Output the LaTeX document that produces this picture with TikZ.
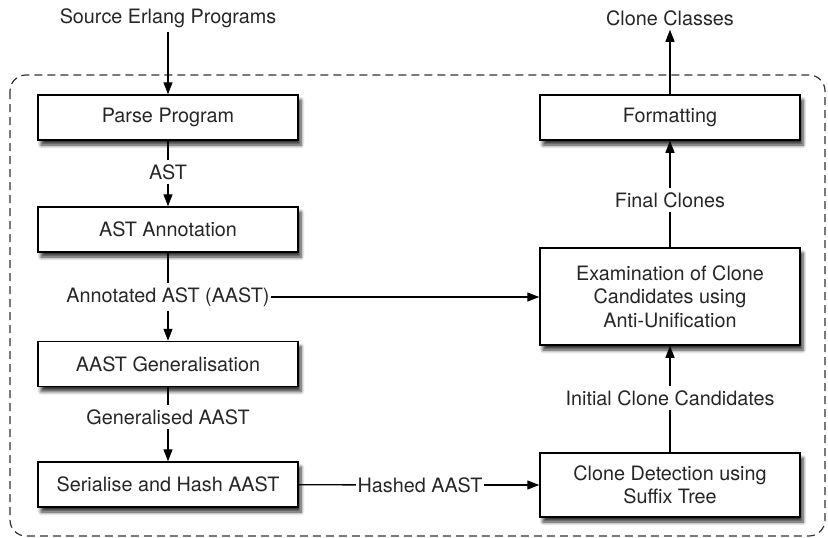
\documentclass[tikz,border=0pt]{standalone}
\usepackage{fontspec}
\setmainfont{TeX Gyre Heros}
\usetikzlibrary{arrows.meta,shadows.blur}
\begin{document}
\begin{tikzpicture}[x=1pt,y=-1pt,
  every node/.style={font=\fontsize{19.8}{23.5}\selectfont, text=black!85},
  stage/.style={draw=black, line width=1.5pt, fill=white, minimum width=260pt,
    minimum height=45pt, align=center, inner sep=2pt,
    blur shadow={shadow xshift=3pt, shadow yshift=-5pt, shadow blur steps=6,
      shadow blur radius=3.5pt, shadow opacity=80}},
  lbl/.style={inner sep=4pt},
  inline/.style={inner xsep=1.5pt, inner ysep=4pt},
  conn/.style={line width=1.3pt, draw=black},
  flow/.style={conn, -{Triangle[length=12pt,width=9pt]}}]
\useasboundingbox (0,0) rectangle (828,538);

% dashed frame around the tool
\draw[black!80, line width=1.2pt, dash pattern=on 8pt off 5pt, rounded corners=16pt]
  (10,75) rectangle (825,536);

% left column
\node[lbl] (src) at (168,18) {Source Erlang Programs};
\node[stage] (parse) at (168,117.5) {Parse Program};
\node[lbl] (ast) at (168,172) {AST};
\node[stage] (annot) at (168,229.5) {AST Annotation};
\node[lbl, inline] (aast) at (168,297) {Annotated AST (AAST)};
\node[stage] (gen) at (168,364) {AAST Generalisation};
\node[lbl] (gaast) at (168,417) {Generalised AAST};
\node[stage] (ser) at (168,484.5) {Serialise and Hash AAST};

% right column
\node[lbl] (cls) at (670,18) {Clone Classes};
\node[stage] (fmt) at (670,117.5) {Formatting};
\node[lbl] (final) at (670,200) {Final Clones};
\node[stage, minimum height=97pt] (exam) at (670,296.5)
  {Examination of Clone\\Candidates using\\Anti-Unification};
\node[lbl] (init) at (670,398) {Initial Clone Candidates};
\node[stage, minimum height=64pt] (det) at (670,485)
  {Clone Detection using\\Suffix Tree};
\node[inline] (hash) at (420,485) {Hashed AAST};

% connectors
\draw[flow] (src) -- (parse);
\draw[conn] (parse) -- (ast);
\draw[flow] (ast) -- (annot);
\draw[conn] (annot) -- (aast);
\draw[flow] (aast) -- (gen);
\draw[flow] (aast.east) -- (exam.west |- aast.east);
\draw[conn] (gen) -- (gaast);
\draw[flow] (gaast) -- (ser);
\draw[conn] (ser) -- (hash);
\draw[flow] (hash) -- (det);
\draw[conn] (det) -- (init);
\draw[flow] (init) -- (exam);
\draw[conn] (exam) -- (final);
\draw[flow] (final) -- (fmt);
\draw[flow] (fmt) -- (cls);
\end{tikzpicture}
\end{document}
